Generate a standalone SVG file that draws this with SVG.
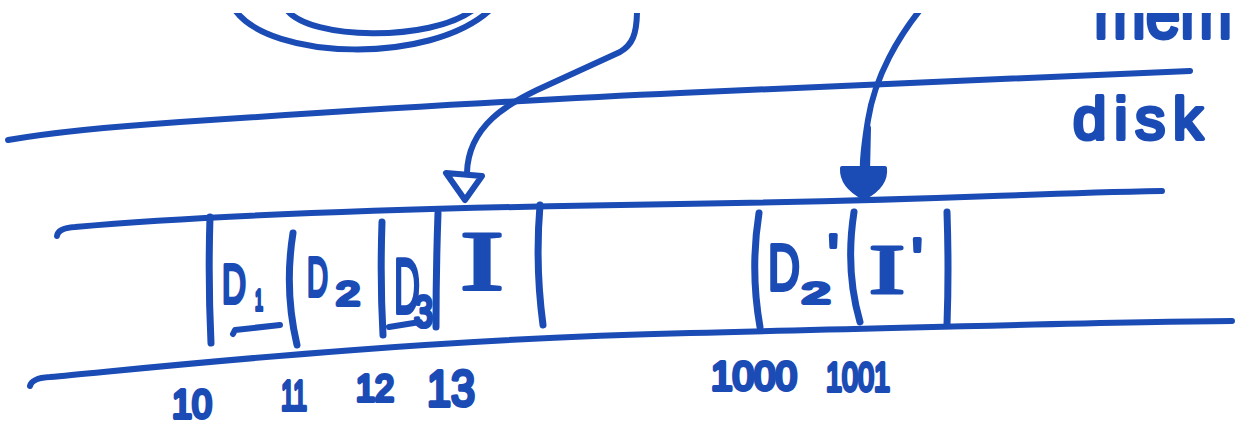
<svg xmlns="http://www.w3.org/2000/svg" width="1242" height="425" viewBox="0 0 1242 425">
<style>
.ln{fill:none;stroke:#1b4bb4;stroke-width:6;stroke-linecap:round;stroke-linejoin:round}
.bar{fill:none;stroke:#1b4bb4;stroke-width:7;stroke-linecap:round}
.hw{fill:#1b4bb4;stroke:#1b4bb4;stroke-width:4;stroke-linejoin:round;font-family:"Liberation Sans","DejaVu Sans",sans-serif}
.hs{fill:#1b4bb4;stroke:#1b4bb4;stroke-width:3;stroke-linejoin:round;font-family:"Liberation Serif","DejaVu Serif",serif}
</style>
<defs>
<clipPath id="top"><rect x="0" y="13" width="1242" height="412"/></clipPath>
</defs>
<rect width="1242" height="425" fill="#ffffff"/>
<g clip-path="url(#top)">
<g id="memory-structure">
<path class="ln" d="M235,10 C270,60 430,65 490,10"/>
<path class="ln" d="M287,10 C310,40 430,42 473,10"/>
</g>
<g id="mem-label">
<text class="hw" x="1094" y="38" font-size="72" textLength="138" lengthAdjust="spacingAndGlyphs">mem</text>
</g>
<g id="divider">
<path class="ln" d="M8,140 C60,131 120,126 180,122 S500,101 680,93 S1000,79 1190,71"/>
</g>
<g id="disk-label">
<text class="hw" x="1073" y="139" font-size="60" textLength="130" lengthAdjust="spacing">disk</text>
</g>
<g id="disk-block">
<path class="ln" d="M57,236 Q58,228 75,227 C200,216 400,208 680,204 S1000,194 1162,191"/>
<path class="ln" d="M30,386 Q32,378 50,377 C150,368 400,340 690,333 S1100,322 1232,321"/>
</g>
<g id="cell-D1">
<path class="bar" d="M210,217 Q208,280 211,343"/>
<text class="hw" x="222" y="303" font-size="56" textLength="24" lengthAdjust="spacingAndGlyphs">D</text>
<text class="hw" x="255" y="310" font-size="30" textLength="8" lengthAdjust="spacingAndGlyphs">1</text>
<path class="ln" d="M233,334 L235,330 L280,325"/>
</g>
<g id="cell-D2">
<path class="bar" d="M293,233 Q284,290 297,345"/>
<text class="hw" x="307" y="296" font-size="56" textLength="21" lengthAdjust="spacingAndGlyphs">D</text>
<text class="hw" x="336" y="305" font-size="34" textLength="24" lengthAdjust="spacingAndGlyphs">2</text>
</g>
<g id="cell-D3">
<path class="bar" d="M382,222 Q380,280 383,335"/>
<text class="hw" x="394" y="313" font-size="78" textLength="26" lengthAdjust="spacingAndGlyphs">D</text>
<text class="hw" x="414" y="327" font-size="44" textLength="19" lengthAdjust="spacingAndGlyphs">3</text>
<path class="ln" d="M389,327 L420,322"/>
</g>
<g id="cell-I">
<path class="bar" d="M438,213 Q436,270 436,327"/>
<text class="hs" x="460" y="290" font-size="84" textLength="44" lengthAdjust="spacingAndGlyphs">I</text>
<path class="bar" d="M540,205 Q535,265 543,325"/>
</g>
<g id="cell-D2p">
<path class="bar" d="M759,213 Q750,270 760,327"/>
<text class="hw" x="768" y="290" font-size="65" textLength="32" lengthAdjust="spacingAndGlyphs">D</text>
<text class="hw" x="802" y="303" font-size="30" textLength="28" lengthAdjust="spacingAndGlyphs">2</text>
<text class="hw" x="828" y="273" font-size="55">'</text>
</g>
<g id="cell-Ip">
<path class="bar" d="M854,212 Q845,270 860,322"/>
<text class="hs" x="869" y="293" font-size="70" textLength="36" lengthAdjust="spacingAndGlyphs">I</text>
<text class="hw" x="912" y="277" font-size="55">'</text>
<path class="bar" d="M947,212 Q949,270 947,325"/>
</g>
<g id="addresses">
<text class="hw" x="172" y="418" font-size="40" textLength="40" lengthAdjust="spacingAndGlyphs">10</text>
<text class="hw" x="281" y="410" font-size="42" textLength="26" lengthAdjust="spacingAndGlyphs">11</text>
<text class="hw" x="356" y="401" font-size="36" textLength="38" lengthAdjust="spacingAndGlyphs">12</text>
<text class="hw" x="427" y="406" font-size="50" textLength="48" lengthAdjust="spacingAndGlyphs">13</text>
<text class="hw" x="711" y="390" font-size="40" textLength="86" lengthAdjust="spacingAndGlyphs">1000</text>
<text class="hw" x="826" y="391" font-size="40" textLength="64" lengthAdjust="spacingAndGlyphs">1001</text>
</g>
<g id="connectors">
<path class="ln" d="M637,10 C637,35 632,45 620,52 L537,90 C510,103 468,125 467,173"/>
<path class="ln" d="M446,173 L482,176 L465,200 Z"/>
<path class="ln" d="M920,10 C900,35 875,75 868,120 C864,145 862,160 863,172"/>
<path class="ln" d="M868,128 L867,172"/>
<path d="M842,168 L885,168 Q887,186 864,198 Q841,186 842,168 Z" fill="#1b4bb4" stroke="#1b4bb4" stroke-width="4" stroke-linejoin="round"/>
</g>
</g>
</svg>
